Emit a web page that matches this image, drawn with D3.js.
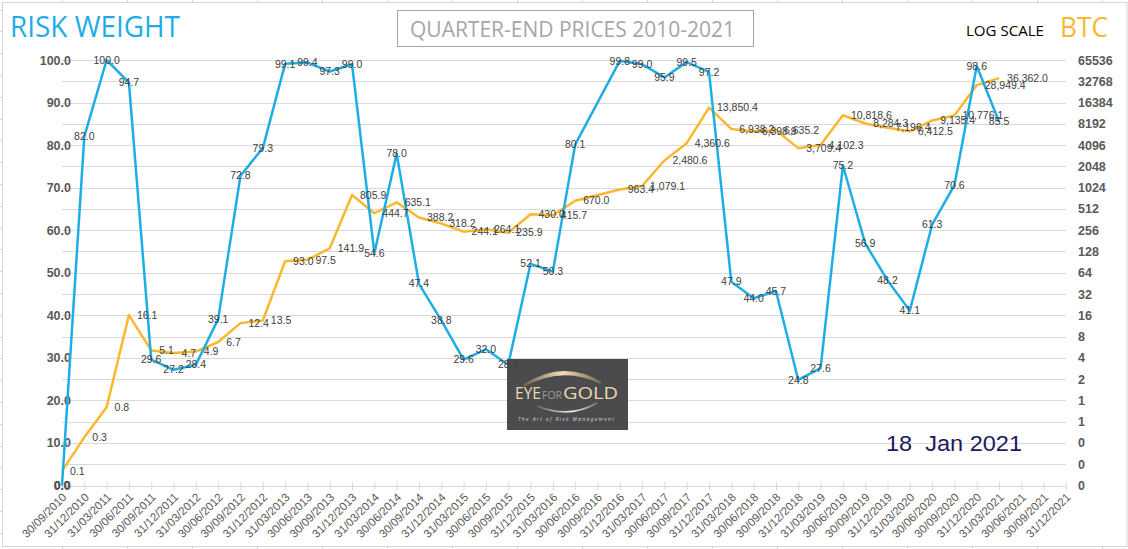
<!DOCTYPE html>
<html><head><meta charset="utf-8">
<script src="https://cdn.jsdelivr.net/npm/d3@7"></script>
<style>
html,body{margin:0;padding:0;background:#fff;}
svg{display:block;}
</style></head>
<body><svg id="chart" width="1128" height="549"></svg>
<script>
const categories = ["30/09/2010","31/12/2010","31/03/2011","30/06/2011","30/09/2011","31/12/2011","31/03/2012","30/06/2012","30/09/2012","31/12/2012","31/03/2013","30/06/2013","30/09/2013","31/12/2013","31/03/2014","30/06/2014","30/09/2014","31/12/2014","31/03/2015","30/06/2015","30/09/2015","31/12/2015","31/03/2016","30/06/2016","30/09/2016","31/12/2016","31/03/2017","30/06/2017","30/09/2017","31/12/2017","31/03/2018","30/06/2018","30/09/2018","31/12/2018","31/03/2019","30/06/2019","30/09/2019","31/12/2019","31/03/2020","30/06/2020","30/09/2020","31/12/2020","31/03/2021","30/06/2021","30/09/2021","31/12/2021"];

const riskWeight = [0.0,82.0,100.0,94.7,29.6,27.2,28.4,39.1,72.8,79.3,99.1,99.4,97.3,99.0,54.6,78.0,47.4,38.8,29.6,32.0,28.4,52.1,50.3,80.1,null,99.8,99.0,95.9,99.5,97.2,47.9,44.0,45.7,24.8,27.6,75.2,56.9,48.2,41.1,61.3,70.6,98.6,85.5,null,null,null];

const btcPrice = [0.1,0.3,0.8,16.1,5.1,4.7,4.9,6.7,12.4,13.5,93.0,97.5,141.9,805.9,444.7,635.1,388.2,318.2,244.1,264.1,235.9,430.0,415.7,670.0,null,963.4,1079.1,2480.6,4360.6,13850.4,6938.2,6398.9,6635.2,3709.4,4102.3,10818.6,8284.3,7196.4,6412.5,9135.4,10776.1,28949.4,36362.0,null,null,null];

const leftTicks = [0,10,20,30,40,50,60,70,80,90,100];
const gridValues = [0,5,10,15,20,25,30,35,40,45,50,55,60,65,70,75,80,85,90,95,100];
const rightTicks = [0.0625,0.125,0.25,0.5,1,2,4,8,16,32,64,128,256,512,1024,2048,4096,8192,16384,32768,65536];

const BLUE = "#1FADE6", GOLD = "#FBB72E";
const svg = d3.select("#chart");
const X0 = 62, X1 = 1066, YB = 485.5, YT = 60;

const x = d3.scalePoint().domain(categories).range([X0, X1]);
const yL = d3.scaleLinear().domain([0, 100]).range([YB, YT]);
const yR = d3.scaleLog().base(2).domain([0.0625, 65536]).range([YB, YT]);

// outer frame (spreadsheet cell borders around the chart object)
const frame = svg.append("g").attr("stroke", "#D6D6D6").attr("stroke-width", 1);
frame.append("rect").attr("x", 2.5).attr("y", 2.5).attr("width", 1124.5).attr("height", 544).attr("fill", "none");
for (let cx = -3; cx <= 1128; cx += 65) {
  frame.append("line").attr("x1", cx + 0.5).attr("x2", cx + 0.5).attr("y1", 0).attr("y2", 2.5);
  frame.append("line").attr("x1", cx + 0.5).attr("x2", cx + 0.5).attr("y1", 547).attr("y2", 549);
}
for (let ry = 9.5; ry <= 549; ry += 21.8) {
  frame.append("line").attr("x1", 0).attr("x2", 2.5).attr("y1", Math.round(ry) + 0.5).attr("y2", Math.round(ry) + 0.5);
}

// gridlines
svg.append("g").selectAll("line").data(gridValues).join("line")
  .attr("x1", X0).attr("x2", X1)
  .attr("y1", d => Math.round(yL(d)) + 0.5).attr("y2", d => Math.round(yL(d)) + 0.5)
  .attr("stroke", "#D9D9D9").attr("stroke-width", 1);

// x axis ticks (cross) and labels
const xAxis = svg.append("g").attr("transform", `translate(0,${Math.round(YB) - 4})`)
  .call(d3.axisBottom(x).tickSizeInner(8).tickSizeOuter(0));
xAxis.select(".domain").remove();
xAxis.selectAll(".tick line").attr("stroke", "#D9D9D9");
xAxis.selectAll(".tick text")
  .attr("x", 0).attr("y", 0).attr("dy", "0.35em")
  .attr("transform", "translate(2,13) rotate(-45)")
  .style("text-anchor", "end")
  .attr("fill", "#595959")
  .style("font-family", "'Liberation Sans', Arial, sans-serif")
  .style("font-size", "11.5px");

// left axis
const la = svg.append("g").attr("transform", `translate(74,0)`)
  .call(d3.axisLeft(yL).tickValues(leftTicks).tickSize(0).tickPadding(3).tickFormat(d3.format(".1f")));
la.select(".domain").remove();
la.selectAll("text").attr("fill", "#595959")
  .style("font-family", "'Liberation Sans', Arial, sans-serif")
  .style("font-size", "12.5px").style("font-weight", "bold");

// right axis
const ra = svg.append("g").attr("transform", `translate(${X1},0)`)
  .call(d3.axisRight(yR).tickValues(rightTicks).tickSize(0).tickPadding(12).tickFormat(d => String(Math.round(d))));
ra.select(".domain").remove();
ra.selectAll("text").attr("fill", "#595959")
  .style("font-family", "'Liberation Sans', Arial, sans-serif")
  .style("font-size", "12.5px").style("font-weight", "bold");

// series
const bluePts = categories.map((c, i) => ({c, v: riskWeight[i]})).filter(d => d.v != null);
const goldPts = categories.map((c, i) => ({c, v: btcPrice[i]})).filter(d => d.v != null);

svg.append("path").datum(goldPts)
  .attr("d", d3.line().x(d => x(d.c)).y(d => yR(d.v)))
  .attr("fill", "none").attr("stroke", GOLD).attr("stroke-width", 2.5).attr("stroke-linejoin", "round");
svg.append("path").datum(bluePts)
  .attr("d", d3.line().x(d => x(d.c)).y(d => yL(d.v)))
  .attr("fill", "none").attr("stroke", BLUE).attr("stroke-width", 2.5).attr("stroke-linejoin", "round");

// logo
const logo = svg.append("g").attr("transform", "translate(507,359)");
const defs = svg.append("defs");
const lg = defs.append("linearGradient").attr("id", "arcg").attr("x1", "0").attr("x2", "1");
lg.append("stop").attr("offset", "0").attr("stop-color", "#6b5f4a");
lg.append("stop").attr("offset", "0.5").attr("stop-color", "#F0DDB5");
lg.append("stop").attr("offset", "1").attr("stop-color", "#7a6c52");
const lg2 = defs.append("linearGradient").attr("id", "arcs").attr("x1", "0").attr("x2", "1");
lg2.append("stop").attr("offset", "0").attr("stop-color", "#666");
lg2.append("stop").attr("offset", "0.6").attr("stop-color", "#f2f2f2");
lg2.append("stop").attr("offset", "1").attr("stop-color", "#777");
logo.append("rect").attr("width", 121).attr("height", 71).attr("fill", "#4B4B4D");
logo.append("path").attr("d", "M16,27 Q56,1 94,24 Q56,5 16,27 Z").attr("fill", "none")
  .attr("stroke", "url(#arcg)").attr("stroke-width", 2.2);
logo.append("path").attr("d", "M30,47 Q62,60 90,44").attr("fill", "none")
  .attr("stroke", "url(#arcs)").attr("stroke-width", 1.8);
const lf = "'Open Sans', 'Liberation Sans', sans-serif";
logo.append("text").attr("x", 8).attr("y", 40).text("EYE").attr("fill", "#EAD8B0")
  .style("font-family", lf).style("font-size", "16px").attr("textLength", 26).attr("lengthAdjust", "spacingAndGlyphs");
logo.append("text").attr("x", 35).attr("y", 40).text("FOR").attr("fill", "#9A9A9A")
  .style("font-family", lf).style("font-size", "10px").attr("textLength", 20).attr("lengthAdjust", "spacingAndGlyphs");
logo.append("text").attr("x", 56).attr("y", 40).text("GOLD").attr("fill", "#EAD8B0")
  .style("font-family", lf).style("font-size", "16px").attr("textLength", 55).attr("lengthAdjust", "spacingAndGlyphs");
logo.append("text").attr("x", 11).attr("y", 62).text("The Art of Risk Management").attr("fill", "#D8D8D8")
  .style("font-family", lf).style("font-size", "5px").style("font-style", "italic")
  .attr("textLength", 96).attr("lengthAdjust", "spacing");

// data labels
const lblFont = "'Liberation Sans', Arial, sans-serif";
const fmt = d3.format(",.1f");
svg.append("g").selectAll("text").data(goldPts).join("text")
  .attr("x", d => x(d.c) + 8).attr("y", d => yR(d.v)).attr("dy", "0.35em")
  .text(d => fmt(d.v)).attr("fill", "#404040")
  .style("font-family", lblFont).style("font-size", "10.5px");
svg.append("g").selectAll("text").data(bluePts).join("text")
  .attr("x", d => x(d.c)).attr("y", d => yL(d.v)).attr("dy", "0.35em")
  .attr("text-anchor", "middle")
  .text(d => fmt(d.v)).attr("fill", "#404040")
  .style("font-family", lblFont).style("font-size", "10.5px");

// titles
const tf = "'Open Sans', 'Noto Sans', sans-serif";
svg.append("text").attr("x", 10).attr("y", 37).text("RISK WEIGHT").attr("fill", BLUE)
  .style("font-family", tf).style("font-size", "29px")
  .attr("textLength", 170).attr("lengthAdjust", "spacingAndGlyphs");
svg.append("rect").attr("x", 397.5).attr("y", 10.5).attr("width", 356).attr("height", 36)
  .attr("fill", "#fff").attr("stroke", "#A6A6A6").attr("stroke-width", 1);
svg.append("text").attr("x", 410).attr("y", 37).text("QUARTER-END PRICES 2010-2021").attr("fill", "#A6A6A6")
  .style("font-family", tf).style("font-size", "21px")
  .attr("textLength", 325).attr("lengthAdjust", "spacingAndGlyphs");
svg.append("text").attr("x", 966).attr("y", 36).text("LOG SCALE").attr("fill", "#000")
  .style("font-family", tf).style("font-size", "15px")
  .attr("textLength", 78).attr("lengthAdjust", "spacingAndGlyphs");
svg.append("text").attr("x", 1060).attr("y", 37).text("BTC").attr("fill", GOLD)
  .style("font-family", tf).style("font-size", "28px")
  .attr("textLength", 48).attr("lengthAdjust", "spacingAndGlyphs");
svg.append("text").attr("x", 886).attr("y", 451).text("18  Jan 2021").attr("fill", "#1D1A5C")
  .attr("xml:space", "preserve").style("white-space", "pre")
  .style("font-family", "'Liberation Sans', Arial, sans-serif").style("font-size", "22px")
  .attr("textLength", 136).attr("lengthAdjust", "spacingAndGlyphs");
</script></body></html>
